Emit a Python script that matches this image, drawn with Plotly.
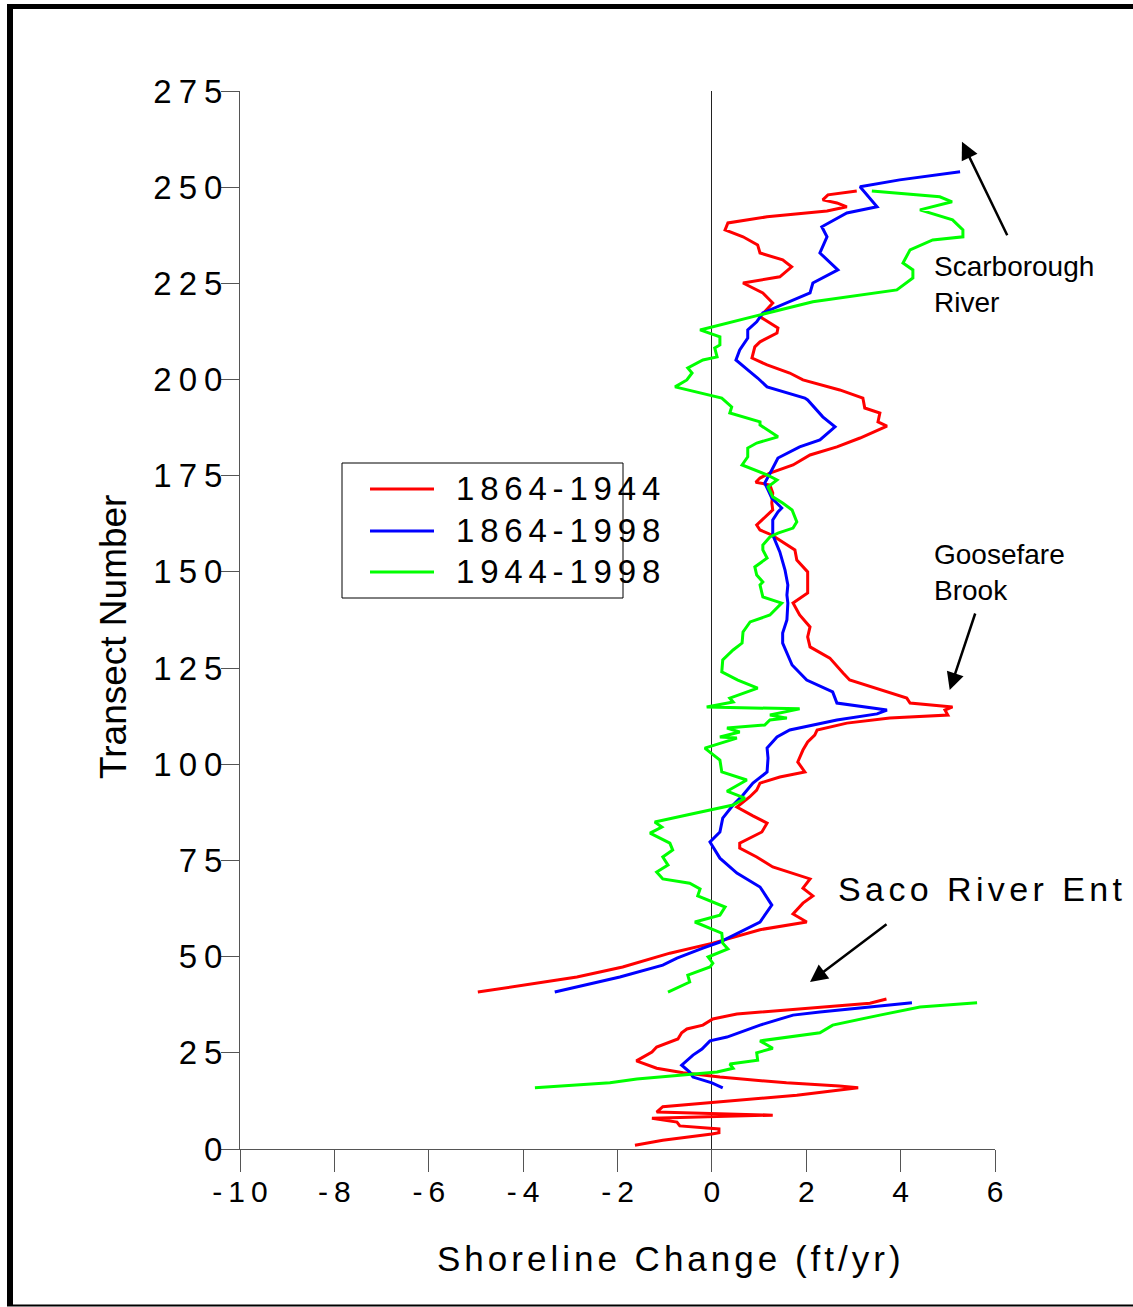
import plotly.graph_objects as go

# ---------------- data ----------------
# 1864-1944 (red); None marks the gap at the Saco River entrance
t_1864_1944 = [1.0, 2.3, 3.9, 4.2, 5.2, 6.0, 7.0, 8.0, 8.8, 9.6, 11, 14, 15.9, 16.4, 17.2, 18.7,
               19.8, 21, 22.9, 25.2, 26.5, 28.6, 30.2, 31.2, 32.2, 33.8, 35.1, 37.9, 39.0, None,
               40.8, 44.7, 47.3, 50.9, 53.5, 57, 59, 61.1, 63.9, 65.8, 67.8, 70.2, 73.3, 75.9,
               78.2, 79.5, 82.4, 84.7, 86.6, 88.9, 91.5, 93.3, 95.1, 96.7, 98, 100.6, 103.7,
               105.8, 107.6, 108.9, 110.7, 112, 112.8, 114.1, 114.9, 115.9, 117.2, 119.8, 121.9,
               123.7, 127.6, 130.5, 133.1, 135.7, 138.8, 141.9, 144.5, 150, 153.1, 155.7, 159.6,
               160.9, 162.2, 166.1, 167.9, 170.5, 172.6, 173.3, 174.4, 175.7, 177.8, 180.4, 182.5,
               184.8, 187.9, 189, 191.3, 192.6, 195.2, 197.3, 199.9, 201.7, 203.8, 205.6, 208.5,
               209.8, 212.1, 213.4, 216.3, 219.9, 222.5, 225.1, 225.9, 226.7, 229.3, 231.1, 232.9,
               235, 237.1, 238.9, 240.7, 242.3, 243.8, 244.9, 245.9, 246.7, 248, 249]
c_1864_1944 = [-1.63, -1.04, 0, 0.15, 0.15, -0.68, -0.74, -1.27, 1.29, -1.17, -1.04, 1.8, 3.1, 2.7,
               1.58, 0.17, -0.61, -1.17, -1.6, -1.27, -1.17, -0.72, -0.64, -0.53, -0.19, 0.02,
               0.53, 3.35, 3.7, None,
               -4.96, -2.86, -1.89, -0.89, 0.02, 1.02, 2.01, 1.72, 1.93, 2.14, 1.93, 2.08, 1.29,
               0.95, 0.59, 0.59, 1.06, 1.17, 0.87, 0.53, 0.8, 0.95, 1.02, 1.44, 1.97, 1.82, 1.93,
               2.03, 2.18, 2.23, 2.86, 3.77, 5.0, 4.94, 5.1, 4.2, 4.13, 3.45, 2.92, 2.78, 2.5,
               2.08, 2.03, 2.08, 1.86, 1.72, 2.03, 2.03, 1.8, 1.76, 1.27, 1.02, 0.95, 1.29, 1.27,
               1.29, 1.23, 0.93, 1.02, 1.23, 1.72, 2.08, 2.65, 3.14, 3.71, 3.52, 3.56, 3.24, 3.2,
               2.71, 1.93, 1.65, 1.17, 0.85, 0.91, 1.02, 1.38, 1.4, 1.02, 1.29, 1.08, 0.66, 1.02,
               1.44, 1.69, 1.5, 1.02, 0.97, 0.66, 0.28, 0.34, 1.17, 2.44, 2.86, 2.65, 2.35, 2.46,
               3.07]

# 1864-1998 (blue)
t_1864_1998 = [15.9, 17.2, 18.7, 20, 21.8, 24.4, 26, 28.1, 29.1, 32.2, 34.8, 35.6, 38, None,
               40.8, 44.7, 47.8, 49.6, 52.2, 53.8, 59, 63.4, 68.1, 71.7, 75.6, 79.8, 82.4, 86,
               89.4, 92, 95.1, 98, 101.6, 104.2, 107.1, 108.9, 111.5, 113.1, 114.1, 115.9, 118.8,
               121.9, 125.8, 131.5, 134.1, 137.5, 141.9, 144, 146.6, 150.5, 155.2, 158.3, 159.6,
               163.5, 165.6, 166.6, 169.2, 171.3, 173.1, 176.5, 179.6, 182.5, 184.3, 187.7, 190.3,
               194.7, 195.2, 198.1, 200.4, 202.5, 205.1, 207.7, 210.8, 212.9, 215, 217.3, 219.4,
               222.5, 225.1, 228.5, 232.9, 237.1, 239.7, 243.3, 244.9, 248, 250.1, 251.9, 254]
c_1864_1998 = [0.23, 0, -0.4, -0.47, -0.64, -0.4, -0.21, -0.04, 0.32, 1.02, 1.72, 2.29, 4.24, None,
               -3.33, -1.95, -1.04, -0.74, -0.19, 0.17, 1.02, 1.27, 1.02, 0.53, 0.17, -0.04, 0.17,
               0.23, 0.45, 0.66, 0.87, 1.17, 1.19, 1.17, 1.38, 1.65, 2.65, 3.5, 3.71, 2.65, 2.56,
               2.01, 1.7, 1.5, 1.5, 1.59, 1.61, 1.59, 1.61, 1.55, 1.44, 1.34, 1.29, 1.29, 1.4,
               1.48, 1.27, 1.19, 1.12, 1.27, 1.4, 1.86, 2.29, 2.61, 2.35, 2.03, 1.97, 1.17, 0.97,
               0.76, 0.51, 0.59, 0.76, 0.76, 0.95, 1.08, 1.5, 2.08, 2.14, 2.67, 2.29, 2.44, 2.33,
               2.86, 3.5, 3.28, 3.14, 3.98, 5.26]

# 1944-1998 (green)
t_1944_1998 = [15.9, 17.2, 18.2, 20, 21, 22.1, 23.1, 25, 26.2, 28.1, 30.2, 32.2, 34.8, 36.9, 38, None,
               40.8, 43.4, 45.2, 47.3, 48.3, 49.9, 52, 53.5, 56.1, 59, 60.8, 62.9, 65.8, 67.6,
               69.1, 70.2, 72, 73.8, 75.9, 77.7, 79.5, 82.1, 83.7, 85, 86.8, 89.4, 91.2, 93.0,
               95.9, 98, 101.1, 104.2, 106.8, 107.1, 108.4, 109.4, 110.2, 111.5, 112, 112.8,
               114.4, 114.9, 116.2, 117.2, 119.8, 121.9, 124, 127.1, 129.7, 131.5, 134.4, 137,
               138.8, 141.9, 143.5, 146.6, 147.4, 149.2, 151.3, 153.6, 155.7, 157, 159.1, 160.1,
               161.4, 163, 166.1, 167.9, 169.5, 171.3, 172.1, 173.9, 175.2, 177.8, 179.9, 182.2,
               183.5, 185.1, 188.2, 189, 191.3, 192.9, 195.2, 198.1, 199.9, 201.7, 203, 205.1,
               205.9, 208.2, 209, 211.1, 212.9, 216.8, 220.2, 223.3, 226.4, 228.5, 230.3, 233.7,
               236.3, 237.1, 238.9, 241.5, 244.1, 246.2, 247.5, 249]
c_1944_1998 = [-3.75, -2.16, -1.59, 0.11, 0.45, 0.38, 0.97, 0.95, 1.29, 1.02, 2.29, 2.56, 3.56, 4.41,
               5.62, None,
               -0.93, -0.47, -0.51, -0.04, 0.02, -0.08, 0.34, 0.23, 0.21, -0.36, 0.17, 0.28, -0.3,
               -0.25, -0.47, -1.04, -1.17, -0.93, -1.04, -0.83, -0.89, -1.31, -1.06, -1.21, -0.53,
               0.45, 0.7, 0.32, 0.74, 0.21, 0.17, -0.15, 0.53, 0.17, 0.59, 0.32, 1.12, 1.23, 1.59,
               1.23, 1.86, -0.11, 0.45, 0.38, 0.97, 0.55, 0.21, 0.23, 0.45, 0.64, 0.66, 0.81, 1.23,
               1.48, 1.08, 1.02, 1.08, 0.95, 0.91, 1.17, 1.08, 1.08, 1.23, 1.4, 1.72, 1.8, 1.7, 1.5,
               1.29, 1.23, 1.19, 1.38, 1.17, 0.64, 0.76, 0.76, 0.95, 1.4, 1.02, 1.02, 0.38, 0.42,
               0.21, -0.78, -0.53, -0.42, -0.51, -0.19, 0.11, 0.06, 0.17, 0.17, -0.25, 1.02, 2.14,
               3.92, 4.26, 4.26, 4.05, 4.2, 4.68, 5.32, 5.32, 5.1, 4.41, 5.09, 4.83, 3.39]

series_names = ["1864-1944", "1864-1998", "1944-1998"]
series_colors = ["#FF0000", "#0000FF", "#00FF00"]

x_ticks = [-10, -8, -6, -4, -2, 0, 2, 4, 6]
y_ticks = [0, 25, 50, 75, 100, 125, 150, 175, 200, 225, 250, 275]

# ---------------- layout geometry ----------------
W, H = 1133, 1307
L, R, T, B = 240, 995, 91, 1149     # plot area in pixels
PW, PH = R - L, B - T
FONT = "Liberation Sans, Arial, sans-serif"


def px(xp):
    return (xp - L) / PW


def py(yp):
    return (B - yp) / PH


def spaced(text, sp):
    # letter-spacing on all but the last character (no trailing gap)
    if len(text) <= 1:
        return text
    return '<span style="letter-spacing:%spx">%s</span>%s' % (sp, text[:-1], text[-1])


fig = go.Figure()
for tt, cc, name, col in zip([t_1864_1944, t_1864_1998, t_1944_1998],
                             [c_1864_1944, c_1864_1998, c_1944_1998],
                             series_names, series_colors):
    fig.add_trace(go.Scatter(x=cc, y=tt, mode="lines", name=name,
                             line=dict(color=col, width=3), connectgaps=False,
                             showlegend=False))

shapes = []
# outer frame (left, top, bottom)
shapes.append(dict(type="line", xref="paper", yref="paper", x0=px(10), x1=px(10),
                   y0=py(4), y1=py(1306), line=dict(color="black", width=6)))
shapes.append(dict(type="line", xref="paper", yref="paper", x0=px(7), x1=px(1140),
                   y0=py(6.5), y1=py(6.5), line=dict(color="black", width=5)))
shapes.append(dict(type="line", xref="paper", yref="paper", x0=px(7), x1=px(1140),
                   y0=py(1305.5), y1=py(1305.5), line=dict(color="black", width=2)))
# legend box
shapes.append(dict(type="rect", xref="paper", yref="paper", x0=px(342), x1=px(623),
                   y0=py(598), y1=py(463), line=dict(color="black", width=1),
                   fillcolor="rgba(0,0,0,0)"))
leg_y = [489, 531, 572]
annotations = []
for ly, name, col in zip(leg_y, series_names, series_colors):
    shapes.append(dict(type="line", xref="paper", yref="paper", x0=px(370), x1=px(434),
                       y0=py(ly), y1=py(ly), line=dict(color=col, width=3)))
    annotations.append(dict(xref="paper", yref="paper", x=px(454), y=py(ly - 1),
                            xanchor="left", yanchor="middle", showarrow=False,
                            text=spaced(name, 5.8), font=dict(family=FONT, size=33, color="black")))

# axis titles
annotations.append(dict(xref="paper", yref="paper", x=px(669), y=py(1259),
                        xanchor="center", yanchor="middle", showarrow=False,
                        text=spaced("Shoreline Change (ft/yr)", 4.0),
                        font=dict(family=FONT, size=35, color="black")))
annotations.append(dict(xref="paper", yref="paper", x=px(113), y=py(637),
                        xanchor="center", yanchor="middle", showarrow=False, textangle=-90,
                        text="Transect Number", font=dict(family=FONT, size=37, color="black")))

# place labels
annotations.append(dict(xref="paper", yref="paper", x=px(932), y=py(284),
                        xanchor="left", yanchor="middle", align="left", showarrow=False,
                        text="Scarborough<br>River", font=dict(family=FONT, size=28, color="black")))
annotations.append(dict(xref="paper", yref="paper", x=px(932), y=py(572),
                        xanchor="left", yanchor="middle", align="left", showarrow=False,
                        text="Goosefare<br>Brook", font=dict(family=FONT, size=28, color="black")))
annotations.append(dict(xref="paper", yref="paper", x=px(836), y=py(889),
                        xanchor="left", yanchor="middle", align="left", showarrow=False,
                        text=spaced("Saco River Ent", 4.4), font=dict(family=FONT, size=34, color="black")))

# arrows (head at data position, tail offset in pixels)
for (ax_, ay_, hx, hy) in [(46, 95, 5.30, 261.8), (26, -78, 5.04, 119.3), (78, -59, 2.08, 43.4)]:
    annotations.append(dict(xref="x", yref="y", x=hx, y=hy, ax=ax_, ay=ay_, text="",
                            showarrow=True, arrowhead=2, arrowsize=1.4, arrowwidth=2.5,
                            arrowcolor="black", standoff=0, startstandoff=0))

fig.update_layout(
    width=W, height=H, autosize=False,
    margin=dict(l=L, r=W - R, t=T, b=H - B, autoexpand=False),
    paper_bgcolor="white", plot_bgcolor="white",
    font=dict(family=FONT, color="black"),
    shapes=shapes, annotations=annotations,
    xaxis=dict(range=[-10, 6], tickmode="array", tickvals=x_ticks,
               ticktext=[spaced(str(v), 6) for v in x_ticks],
               tickfont=dict(family=FONT, size=30, color="black"),
               ticks="outside", ticklen=22, tickwidth=1, tickcolor="#555",
               ticklabelstandoff=-6,
               showline=True, linecolor="#555", linewidth=1, mirror=False,
               showgrid=False, zeroline=True, zerolinecolor="#222", zerolinewidth=1),
    yaxis=dict(range=[0, 275], tickmode="array", tickvals=y_ticks,
               ticktext=[spaced(str(v), 7) for v in y_ticks],
               tickfont=dict(family=FONT, size=33, color="black"),
               ticks="outside", ticklen=18, tickwidth=1, tickcolor="#555",
               ticklabelstandoff=-8,
               showline=True, linecolor="#555", linewidth=1, mirror=False,
               showgrid=False, zeroline=False),
)

fig.write_html("out.html")
